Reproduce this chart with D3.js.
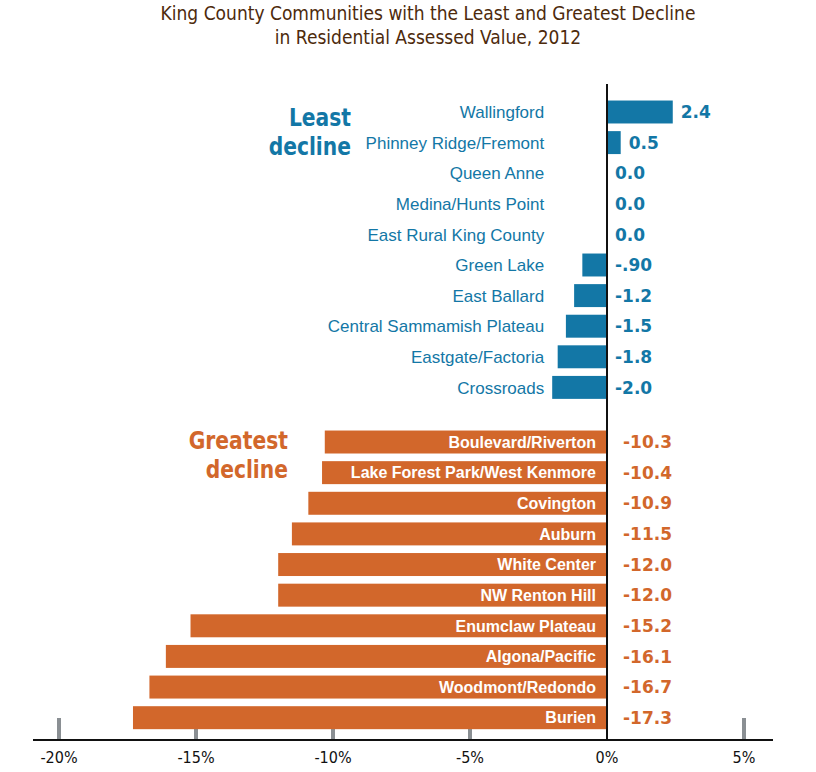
<!DOCTYPE html>
<html>
<head>
<meta charset="utf-8">
<script src="https://cdn.jsdelivr.net/npm/d3@7"></script>
<style>
  body { margin: 0; background: #fff; }
  svg { display: block; }
  .narrow { font-family: "Liberation Sans Narrow", "DejaVu Sans Condensed", sans-serif; }
</style>
</head>
<body>
<div id="chart"></div>
<script>
// King County – least and greatest decline in residential assessed value, 2012

const leastNames = ['Wallingford', 'Phinney Ridge/Fremont', 'Queen Anne', 'Medina/Hunts Point',
  'East Rural King County', 'Green Lake', 'East Ballard', 'Central Sammamish Plateau',
  'Eastgate/Factoria', 'Crossroads'];
const leastValues = [2.4, 0.5, 0.0, 0.0, 0.0, -0.9, -1.2, -1.5, -1.8, -2.0];
const leastLabels = ['2.4', '0.5', '0.0', '0.0', '0.0', '-.90', '-1.2', '-1.5', '-1.8', '-2.0'];

const greatestNames = ['Boulevard/Riverton', 'Lake Forest Park/West Kenmore', 'Covington', 'Auburn',
  'White Center', 'NW Renton Hill', 'Enumclaw Plateau', 'Algona/Pacific', 'Woodmont/Redondo', 'Burien'];
const greatestValues = [-10.3, -10.4, -10.9, -11.5, -12.0, -12.0, -15.2, -16.1, -16.7, -17.3];

const tickValues = [-20, -15, -10, -5, 0, 5];

const W = 816, H = 772;
const BLUE = '#1377a6', ORANGE = '#d2672b';

const svg = d3.select('#chart').append('svg')
  .attr('width', W).attr('height', H);

const x = d3.scaleLinear().domain([-20, 5]).range([59, 744]);
const y1 = d3.scaleBand().domain(leastNames).range([96.7, 402.7]).paddingInner(0.25).paddingOuter(0.125);
const y2 = d3.scaleBand().domain(greatestNames).range([426.7, 733]).paddingInner(0.25).paddingOuter(0.125);

// Title
const title = svg.append('text').attr('class', 'narrow')
  .attr('text-anchor', 'middle').attr('fill', '#4d2a0c').attr('font-size', 19);
title.append('tspan').attr('x', 428).attr('y', 20).text('King County Communities with the Least and Greatest Decline');
title.append('tspan').attr('x', 428).attr('y', 44).text('in Residential Assessed Value, 2012');

// Axis ticks (drawn under bars)
const axisY = 740;
svg.append('g').selectAll('line').data(tickValues.filter(d => d !== 0)).join('line')
  .attr('x1', d => x(d)).attr('x2', d => x(d))
  .attr('y1', axisY - 22).attr('y2', axisY)
  .attr('stroke', '#8a8f93').attr('stroke-width', 4);

svg.append('g').selectAll('text').data(tickValues).join('text')
  .attr('class', 'narrow')
  .attr('x', d => x(d)).attr('y', 763)
  .attr('text-anchor', 'middle').attr('font-size', 16).attr('fill', '#111')
  .text(d => d + '%');

// Least decline section
const g1 = svg.append('g');
g1.selectAll('rect').data(leastValues).join('rect')
  .attr('x', d => x(Math.min(0, d)))
  .attr('y', (d, i) => y1(leastNames[i]))
  .attr('width', d => Math.abs(x(d) - x(0)))
  .attr('height', y1.bandwidth())
  .attr('fill', BLUE);

// names sit clear of the longest negative bar
const nameEdge = x(d3.min(leastValues)) - 8;
g1.selectAll('text.name').data(leastNames).join('text')
  .attr('class', 'name')
  .attr('x', nameEdge)
  .attr('y', d => y1(d) + y1.bandwidth() / 2)
  .attr('dy', '0.36em')
  .attr('text-anchor', 'end')
  .attr('font-family', '"Liberation Sans", Arial, sans-serif')
  .attr('font-size', 17).attr('fill', BLUE)
  .text(d => d);

g1.selectAll('text.val').data(leastValues).join('text')
  .attr('class', 'val')
  .attr('x', d => x(Math.max(0, d)) + 8)
  .attr('y', (d, i) => y1(leastNames[i]) + y1.bandwidth() / 2)
  .attr('dy', '0.36em')
  .attr('font-family', '"DejaVu Sans", sans-serif').attr('font-weight', 'bold')
  .attr('font-size', 17).attr('fill', BLUE)
  .text((d, i) => leastLabels[i]);

// Greatest decline section
const g2 = svg.append('g');
g2.selectAll('rect').data(greatestValues).join('rect')
  .attr('x', d => x(d))
  .attr('y', (d, i) => y2(greatestNames[i]))
  .attr('width', d => x(0) - x(d))
  .attr('height', y2.bandwidth())
  .attr('fill', ORANGE);

g2.selectAll('text.name').data(greatestNames).join('text')
  .attr('class', 'name')
  .attr('x', x(0) - 11)
  .attr('y', d => y2(d) + y2.bandwidth() / 2)
  .attr('dy', '0.36em')
  .attr('text-anchor', 'end')
  .attr('font-family', '"Liberation Sans", Arial, sans-serif').attr('font-weight', 'bold')
  .attr('font-size', 16).attr('fill', '#fff')
  .text(d => d);

g2.selectAll('text.val').data(greatestValues).join('text')
  .attr('class', 'val')
  .attr('x', x(0) + 16)
  .attr('y', (d, i) => y2(greatestNames[i]) + y2.bandwidth() / 2)
  .attr('dy', '0.36em')
  .attr('font-family', '"DejaVu Sans", sans-serif').attr('font-weight', 'bold')
  .attr('font-size', 17).attr('fill', ORANGE)
  .text(d => d.toFixed(1));

// Section headings, squeezed a little to look condensed
function heading(lines, xr, ys, color) {
  lines.forEach((l, i) => {
    svg.append('text').attr('class', 'narrow')
      .attr('transform', `translate(${xr},${ys[i]}) scale(0.92,1)`)
      .attr('text-anchor', 'end').attr('font-weight', 'bold')
      .attr('font-size', 24.5).attr('fill', color)
      .text(l);
  });
}
heading(['Least', 'decline'], 351, [126, 155], BLUE);
heading(['Greatest', 'decline'], 288, [449, 478], ORANGE);

// Zero line and axis line
svg.append('line')
  .attr('x1', x(0)).attr('x2', x(0)).attr('y1', 84).attr('y2', axisY)
  .attr('stroke', '#111').attr('stroke-width', 2);
svg.append('line')
  .attr('x1', 33).attr('x2', 773).attr('y1', axisY).attr('y2', axisY)
  .attr('stroke', '#111').attr('stroke-width', 2);
</script>
</body>
</html>
